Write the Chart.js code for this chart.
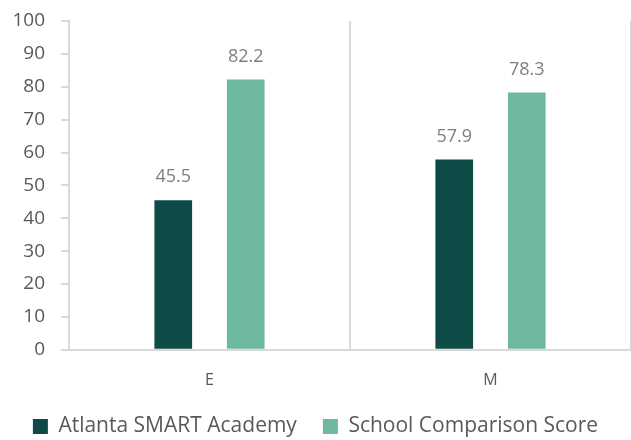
<!DOCTYPE html>
<html>
<head>
<meta charset="utf-8">
<script src="https://cdn.jsdelivr.net/npm/chart.js@4"></script>
<style>
  html, body { margin: 0; padding: 0; background: #fff; }
  #wrap { width: 631px; height: 440px; }
</style>
</head>
<body>
<div id="wrap"><canvas id="chart"></canvas></div>
<script>
const categories = ['E', 'M'];
const schoolName = 'Atlanta SMART Academy';
const comparisonName = 'School Comparison Score';
const schoolScores = [45.5, 57.9];
const comparisonScores = [82.2, 78.3];
const yTicks = [0, 10, 20, 30, 40, 50, 60, 70, 80, 90, 100];

const FONT = '"Open Sans", sans-serif';

// values printed above each bar
const barLabels = {
  id: 'barLabels',
  afterDatasetsDraw(chart) {
    const ctx = chart.ctx;
    ctx.save();
    ctx.font = '18px ' + FONT;
    ctx.fillStyle = '#7f7f7f';
    ctx.textAlign = 'center';
    ctx.textBaseline = 'middle';
    chart.data.datasets.forEach((ds, i) => {
      chart.getDatasetMeta(i).data.forEach((bar, j) => {
        ctx.fillText(ds.data[j].toFixed(1), bar.x, bar.y - 23);
      });
    });
    ctx.restore();
  }
};

const ctx = document.getElementById('chart').getContext('2d');
const myChart = new Chart(ctx, {
  type: 'bar',
  data: {
    labels: categories,
    datasets: [{
      label: schoolName,
      data: schoolScores,
      backgroundColor: '#0f4b46',
      categoryPercentage: 0.516,
      barPercentage: 0.52
    }, {
      label: comparisonName,
      data: comparisonScores,
      backgroundColor: '#6fb8a0',
      categoryPercentage: 0.516,
      barPercentage: 0.52
    }]
  },
  options: {
    responsive: true,
    maintainAspectRatio: false,
    animation: false,
    layout: { padding: { top: 0, right: 0, left: 0, bottom: -7 } },
    plugins: {
      legend: {
        position: 'bottom',
        labels: {
          font: { family: FONT, size: 21 },
          color: '#595959',
          boxWidth: 15,
          boxHeight: 15,
          padding: 26
        }
      },
      tooltip: { enabled: false }
    },
    scales: {
      x: {
        grid: {
          // hide the line on the far right edge
          color: c => (c.index === categories.length ? 'rgba(0,0,0,0)' : '#d9d9d9'),
          lineWidth: 2,
          drawTicks: true,
          tickLength: 21,
          tickColor: 'rgba(0,0,0,0)'
        },
        border: { color: '#d9d9d9', width: 2 },
        ticks: {
          font: { family: FONT, size: 16 },
          color: '#595959',
          padding: 0
        }
      },
      y: {
        min: 0,
        max: 100,
        afterBuildTicks(axis) {
          axis.ticks = yTicks.map(v => ({ value: v }));
        },
        afterFit(axis) { axis.width = 69; },
        grid: {
          drawOnChartArea: false,
          drawTicks: true,
          tickLength: 8,
          color: '#d9d9d9',
          lineWidth: 2
        },
        border: { color: '#d9d9d9', width: 2 },
        ticks: {
          font: { family: FONT, size: 19, lineHeight: 0.53 },
          color: '#595959',
          padding: 16
        }
      }
    }
  },
  plugins: [barLabels]
});
</script>
</body>
</html>
